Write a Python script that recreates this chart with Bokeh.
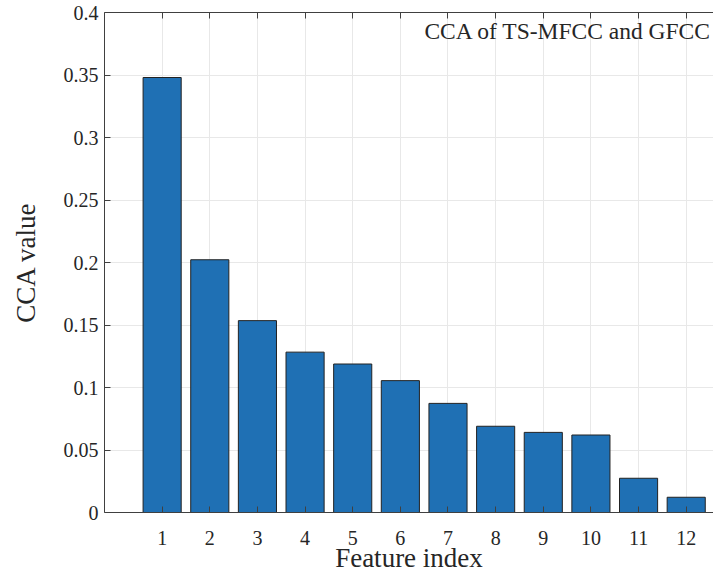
from bokeh.plotting import figure
from bokeh.models import LinearAxis, FixedTicker, CustomJSTickFormatter, Range1d, Label
from bokeh.embed import file_html
from bokeh.resources import INLINE

features = [1, 2, 3, 4, 5, 6, 7, 8, 9, 10, 11, 12]
cca_values = [0.348, 0.2022, 0.1535, 0.1283, 0.1188, 0.1055, 0.0873, 0.0690, 0.0641, 0.0620, 0.0274, 0.0122]
y_ticks = [0, 0.05, 0.1, 0.15, 0.2, 0.25, 0.3, 0.35, 0.4]
title_text = "CCA of TS-MFCC and GFCC"
x_label = "Feature index"
y_label = "CCA value"

FONT = "Liberation Serif"
AX = "#404040"
X0, X1 = -0.21, 12.573

p = figure(width=713, height=575, output_backend="svg", toolbar_location=None,
           x_range=Range1d(X0, X1), y_range=Range1d(0, 0.4),
           min_border_left=104, min_border_right=0, min_border_top=12, min_border_bottom=63,
           x_axis_location="below", y_axis_location="left")
p.outline_line_color = None
p.background_fill_color = "white"

p.vbar(x=features, top=cca_values, width=0.8, fill_color="#1f70b4",
       line_color="#222222", line_width=1)

for ax in (p.xaxis[0], p.yaxis[0]):
    ax.major_tick_in = 6
    ax.major_tick_out = 0
    ax.minor_tick_line_color = None
    ax.axis_line_color = AX
    ax.major_tick_line_color = AX
    ax.major_label_text_font = FONT
    ax.major_label_text_font_size = "20px"
    ax.major_label_text_color = "#262626"
    ax.axis_label_text_font = FONT
    ax.axis_label_text_font_size = "27px"
    ax.axis_label_text_font_style = "normal"
    ax.axis_label_text_color = "#262626"

p.xaxis[0].ticker = FixedTicker(ticks=features)
p.xaxis[0].axis_label = x_label
p.xaxis[0].major_label_standoff = 18
p.xaxis[0].axis_label_standoff = -5

p.yaxis[0].ticker = FixedTicker(ticks=y_ticks)
p.yaxis[0].formatter = CustomJSTickFormatter(
    code="return tick.toFixed(2).replace(/0+$/, '').replace(/\\.$/, '');")
p.yaxis[0].axis_label = y_label
p.yaxis[0].major_label_standoff = 6
p.yaxis[0].axis_label_standoff = 20

top_axis = LinearAxis(ticker=FixedTicker(ticks=features),
                      formatter=CustomJSTickFormatter(code="return '';"))
top_axis.major_tick_in = 6
top_axis.major_tick_out = 0
top_axis.minor_tick_line_color = None
top_axis.axis_line_color = AX
top_axis.major_tick_line_color = AX
top_axis.major_label_standoff = 0
top_axis.major_label_text_font_size = "2px"
p.add_layout(top_axis, "above")

p.xgrid.ticker = FixedTicker(ticks=features)
p.ygrid.ticker = FixedTicker(ticks=y_ticks)
p.xgrid.grid_line_color = "#e8e8e8"
p.ygrid.grid_line_color = "#e8e8e8"

lab = Label(x=12.535, y=0.3856, text=title_text, text_font=FONT, text_font_size="23.5px",
            text_align="right", text_baseline="alphabetic", text_color="#262626")
p.add_layout(lab)

open("out.html", "w").write(file_html(p, INLINE))
